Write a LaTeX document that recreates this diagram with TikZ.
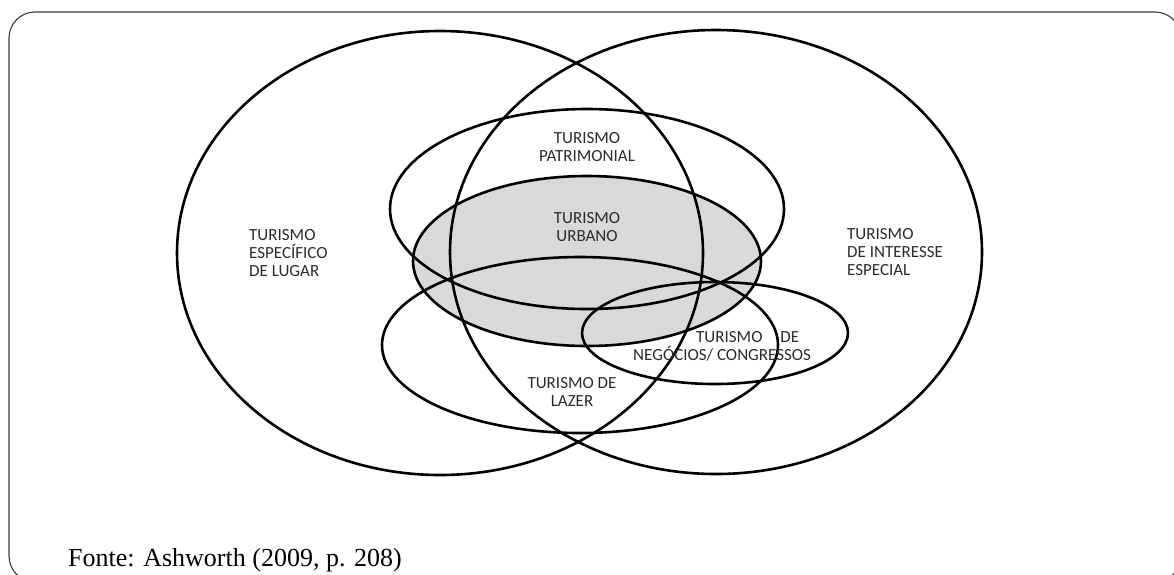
\documentclass[tikz,border=0pt]{standalone}
\usepackage{fontspec}
\setmainfont{Carlito}
\newfontfamily\captionfont{Liberation Serif}
\definecolor{ringgrey}{HTML}{D9D9D9}
\definecolor{labelgrey}{HTML}{2B2B2B}
\definecolor{framegrey}{HTML}{3A3A3A}
\begin{document}
\begin{tikzpicture}[x=1pt,y=-1pt,
  ring/.style={draw=black,line width=2.6pt},
  label/.style={inner sep=0pt,text=labelgrey,font=\fontsize{17}{18}\selectfont},
  centerlabel/.style={label,align=center,anchor=north},
  leftlabel/.style={label,align=left,anchor=north west}]
\useasboundingbox (0,0) rectangle (1174,574);
\begin{scope}
\clip (0,0) rectangle (1174,574);
% outer frame, running past the right and bottom edges
\draw[framegrey,line width=1.1pt,rounded corners=26pt] (9,12) rectangle (1181,582);

% shaded urban tourism region
\fill[ringgrey] (587,261) ellipse [x radius=174,y radius=85];

% two large sets
\draw[ring] (440,253) ellipse [x radius=263,y radius=222];
\draw[ring] (716,252) ellipse [x radius=266,y radius=222];
% heritage tourism
\draw[ring] (587,209) ellipse [x radius=197,y radius=100];
% urban tourism
\draw[ring] (587,261) ellipse [x radius=174,y radius=85];
% leisure tourism
\draw[ring] (580,345) ellipse [x radius=198,y radius=88];
% business / congress tourism
\draw[ring] (715,333) ellipse [x radius=133,y radius=51];
\end{scope}

\node[centerlabel] (patrimonial) at (587,132) {TURISMO\\PATRIMONIAL};
\node[centerlabel] (urbano) at (587,212) {TURISMO\\URBANO};
\node[leftlabel] (lugar) at (249,229) {TURISMO\\ESPECÍFICO\\DE LUGAR};
\node[leftlabel] (interesse) at (847,228) {TURISMO\\DE INTERESSE\\ESPECIAL};
\node[centerlabel] (lazer) at (572,377) {TURISMO DE\\LAZER};
\node[leftlabel] (negocios) at (633,331) {\hspace*{63pt}TURISMO\hspace{18pt}DE\\NEGÓCIOS/ CONGRESSOS};

\node[inner sep=0pt,anchor=base west,font=\captionfont\fontsize{26}{30}\selectfont,text=black] (fonte) at (68,566) {Fonte: Ashworth (2009, p. 208)};
\end{tikzpicture}
\end{document}
